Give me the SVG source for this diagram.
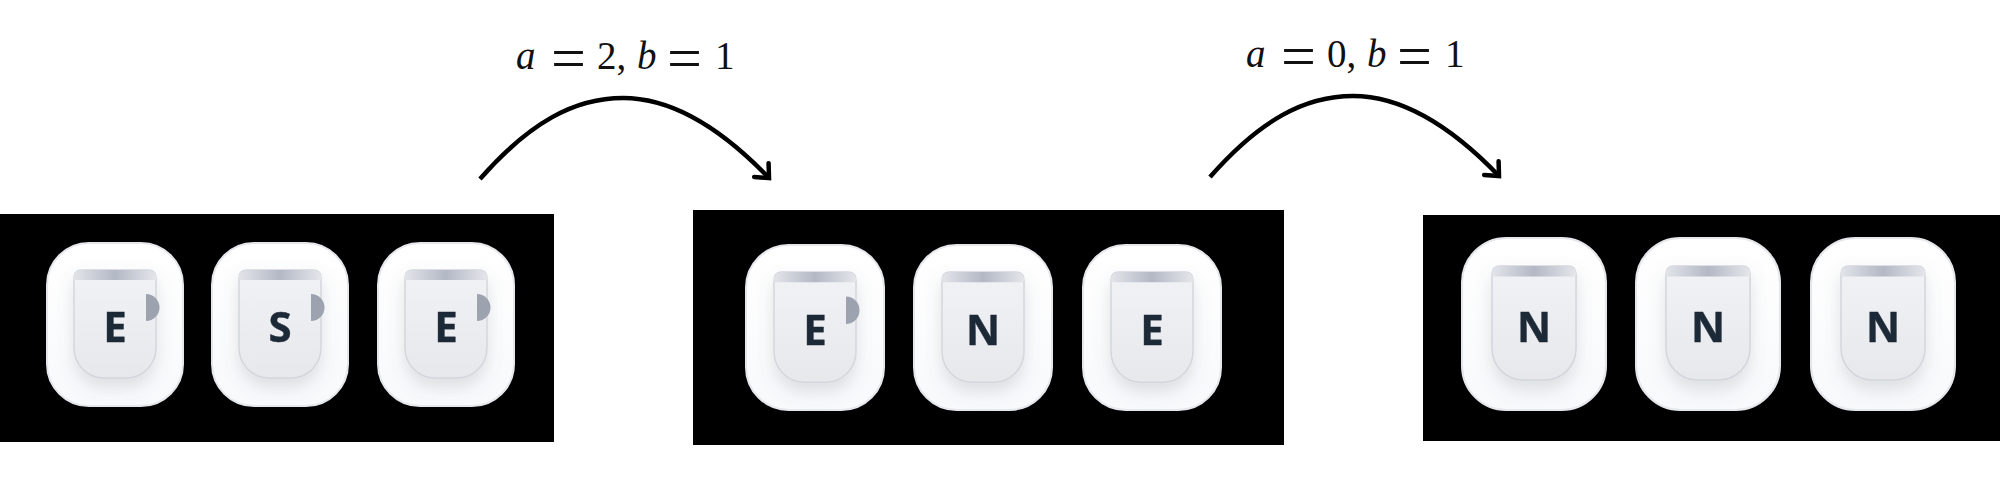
<svg xmlns="http://www.w3.org/2000/svg" width="2000" height="483" viewBox="0 0 2000 483">
<style>
.panel{fill:#000}
.letter{font-family:"Open Sans","Noto Sans",sans-serif;font-weight:700;font-size:42px;fill:#1f2937;stroke:#1f2937;stroke-width:.4;text-anchor:middle}
.math{font-family:"Liberation Serif",serif;font-size:39px;fill:#111}
.math .i{font-style:italic}
.math .eq{font-size:62px;font-weight:400}
.arc{fill:none;stroke:#000;stroke-width:4.5;marker-end:url(#open)}
</style>
<defs>
<linearGradient id="cardFill" x1="0" y1="0" x2="0" y2="1"><stop offset="0" stop-color="#ffffff"/><stop offset="1" stop-color="#f8f9fb"/></linearGradient>
<linearGradient id="mugFill" x1="0" y1="0" x2="0" y2="1"><stop offset="0" stop-color="#f1f2f5"/><stop offset="1" stop-color="#e7e8ec"/></linearGradient>
<linearGradient id="band" x1="0" y1="0" x2="1" y2="0"><stop offset="0" stop-color="#e2e4e9"/><stop offset=".5" stop-color="#b3b8c5"/><stop offset="1" stop-color="#e4e6ea"/></linearGradient>
<filter id="soft" x="-5%" y="-5%" width="110%" height="110%"><feGaussianBlur stdDeviation="0.6"/></filter>
<filter id="shadow" x="-40%" y="-30%" width="180%" height="170%"><feDropShadow dx="0" dy="9" stdDeviation="8" flood-color="#6b7280" flood-opacity=".2"/></filter>
<marker id="open" markerUnits="userSpaceOnUse" markerWidth="30" markerHeight="30" refX="15" refY="15" orient="auto" overflow="visible"><path d="M4 5L15 15L4 25" fill="none" stroke="#000" stroke-width="4.5" stroke-linecap="round"/></marker>
<g id="card"><rect x="1" y="1" width="136" height="163" rx="42" fill="url(#cardFill)" stroke="#e5e7eb" stroke-width="2"/></g>
<g id="mug"><path d="M8 0H74Q82 0 82 8V78A30 30 0 0 1 52 108H30A30 30 0 0 1 0 78V8Q0 0 8 0Z" fill="url(#mugFill)" stroke="#d3d6dd" stroke-width="1.5" filter="url(#shadow)"/><path d="M8 0H74Q82 0 82 8V10H0V8Q0 0 8 0Z" fill="url(#band)"/></g>
<path id="handle" d="M72 24A13.5 13.5 0 0 1 72 51Z" fill="#9ca3af"/>
</defs>

<rect class="panel" x="0" y="214" width="554" height="228"/>
<rect class="panel" x="693" y="210" width="591" height="235"/>
<rect class="panel" x="1423" y="215" width="577" height="226"/>

<g id="connectors">
<path class="arc" d="M480 179C530 122 575 98 623 98C672 98 720 127 769 178"/>
<path class="arc" d="M1210 177C1260 120 1305 96 1353 96C1402 96 1450 125 1499 176"/>
</g>

<g id="label-1"><text class="math" y="69"><tspan class="i" x="516">a</tspan><tspan class="eq" x="551" y="79">=</tspan><tspan x="597" y="69">2,</tspan><tspan class="i" x="637">b</tspan><tspan class="eq" x="667" y="79">=</tspan><tspan x="715" y="69">1</tspan></text></g>
<g id="label-2"><text class="math" y="67"><tspan class="i" x="1246">a</tspan><tspan class="eq" x="1281" y="77">=</tspan><tspan x="1327" y="67">0,</tspan><tspan class="i" x="1367">b</tspan><tspan class="eq" x="1397" y="77">=</tspan><tspan x="1445" y="67">1</tspan></text></g>

<g id="p1-e1" filter="url(#soft)"><use href="#card" transform="translate(46 242)"/><g transform="translate(74 270)"><use href="#mug"/><use href="#handle"/><text class="letter" x="41" y="72">E</text></g></g>
<g id="p1-s" filter="url(#soft)"><use href="#card" transform="translate(211 242)"/><g transform="translate(239 270)"><use href="#mug"/><use href="#handle"/><text class="letter" x="41" y="72">S</text></g></g>
<g id="p1-e2" filter="url(#soft)"><use href="#card" transform="translate(377 242)"/><g transform="translate(405 270)"><use href="#mug"/><use href="#handle"/><text class="letter" x="41" y="72">E</text></g></g>

<g id="p2-e1" filter="url(#soft)"><use href="#card" transform="translate(745 244) scale(1.0145 1.012)"/><g transform="translate(774 272) scale(1 1.02)"><use href="#mug"/><use href="#handle"/></g><text class="letter" x="815" y="345">E</text></g>
<g id="p2-n" filter="url(#soft)"><use href="#card" transform="translate(913 244) scale(1.0145 1.012)"/><g transform="translate(942 272) scale(1 1.02)"><use href="#mug"/></g><text class="letter" x="983" y="345">N</text></g>
<g id="p2-e2" filter="url(#soft)"><use href="#card" transform="translate(1082 244) scale(1.0145 1.012)"/><g transform="translate(1111 272) scale(1 1.02)"><use href="#mug"/></g><text class="letter" x="1152" y="345">E</text></g>

<g id="p3-n1" filter="url(#soft)"><use href="#card" transform="translate(1461 237) scale(1.058 1.055)"/><g transform="translate(1492 266) scale(1.025 1.055)"><use href="#mug"/></g><text class="letter" x="1534" y="342">N</text></g>
<g id="p3-n2" filter="url(#soft)"><use href="#card" transform="translate(1635 237) scale(1.058 1.055)"/><g transform="translate(1666 266) scale(1.025 1.055)"><use href="#mug"/></g><text class="letter" x="1708" y="342">N</text></g>
<g id="p3-n3" filter="url(#soft)"><use href="#card" transform="translate(1810 237) scale(1.058 1.055)"/><g transform="translate(1841 266) scale(1.025 1.055)"><use href="#mug"/></g><text class="letter" x="1883" y="342">N</text></g>
</svg>
